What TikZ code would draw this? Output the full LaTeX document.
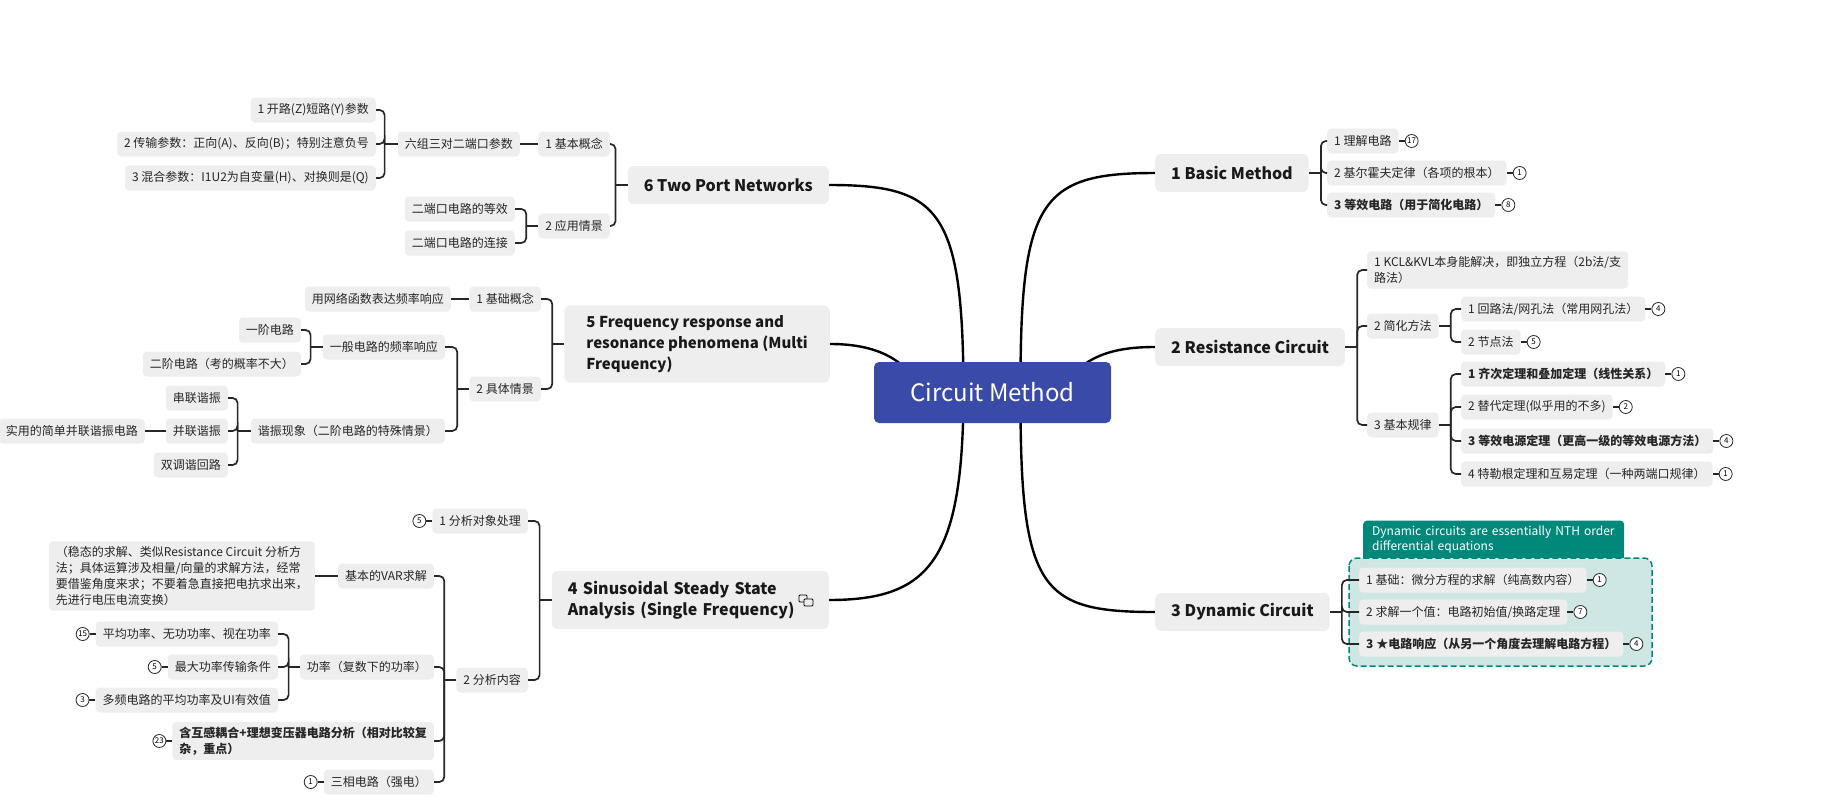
\documentclass[tikz,border=0pt]{standalone}
\usepackage{fontspec}
\setmainfont{Noto Sans CJK SC}
\usetikzlibrary{positioning,backgrounds}

\definecolor{boxgray}{HTML}{EEEEEE}
\definecolor{rootblue}{HTML}{3A4AA8}
\definecolor{noteteal}{HTML}{00897B}
\definecolor{zoneteal}{HTML}{CFE7E4}
\definecolor{linkgray}{HTML}{262626}

\tikzset{
  leaf/.style={fill=boxgray, rounded corners=4pt, inner xsep=7pt, inner ysep=3pt,
    minimum height=25pt, text=black!85, font=\fontsize{12}{16}\selectfont},
  topic/.style={fill=boxgray, rounded corners=6pt, inner xsep=16pt, inner ysep=10pt,
    minimum height=38pt, text=black!90, font=\fontsize{16}{21}\selectfont\bfseries},
  badge/.style={circle, draw=black!85, line width=0.8pt, fill=white, inner sep=0pt,
    minimum size=13pt, font=\fontsize{8}{8}\selectfont},
  elbow/.style={draw=linkgray, line width=1.7pt, rounded corners=5pt},
  branch/.style={draw=black, line width=2.4pt},
  tie/.style={draw=linkgray, line width=1.2pt},
  zone/.style={draw=noteteal, fill=zoneteal, line width=1.5pt, dash pattern=on 6pt off 3pt,
    rounded corners=8pt}
}

\begin{document}
\begin{tikzpicture}[x=1pt,y=-1pt]
\useasboundingbox (0,0) rectangle (1825,808);

% root
\node[fill=rootblue, text=white, rounded corners=5pt, minimum width=237pt, minimum height=61pt,
  font=\fontsize{24}{28}\selectfont] (root) at (992.5,392.5) {Circuit Method};

% right side topics
\node[topic, anchor=west] (basic) at (1155,173) {1 Basic Method};
\node[topic, anchor=west] (resist) at (1155,347) {2 Resistance Circuit};
\node[topic, anchor=west] (dyn) at (1155,612) {3 Dynamic Circuit};

% left side topics
\node[topic, anchor=east] (twoport) at (829,185) {6 Two Port Networks};
\node[topic, anchor=east, align=left, inner xsep=22pt, font=\fontsize{15}{21}\selectfont\bfseries] (freq) at (830,344)
  {5 Frequency response and\\resonance phenomena (Multi\\Frequency)};
\node[topic, anchor=east, text width=245pt, align=left] (sinus) at (829,600)
  {4 Sinusoidal Steady State\\Analysis (Single Frequency)};
\begin{scope}[shift={(sinus.east)}]
\draw[line width=0.8pt, rounded corners=1pt] (-30,-5) rectangle (-22,2);
\draw[line width=0.8pt, rounded corners=1pt, fill=boxgray] (-25,-1) rectangle (-16,6);
\end{scope}

% 1 Basic Method
\node[leaf, anchor=west] (b1) at (1327,141) {1 理解电路};
\node[leaf, anchor=west] (b2) at (1327,173) {2 基尔霍夫定律（各项的根本）};
\node[leaf, anchor=west] (b3) at (1327,205) {\bfseries 3 等效电路（用于简化电路）};
\node[badge, right=6pt of b1] (b1n) {17};
\node[badge, right=6pt of b2] (b2n) {1};
\node[badge, right=6pt of b3] (b3n) {8};

% 2 Resistance Circuit
\node[leaf, anchor=west, align=left, inner ysep=5pt] (r1) at (1367,270)
  {1 KCL\&KVL本身能解决，即独立方程（2b法/支\\路法）};
\node[leaf, anchor=west] (r2) at (1367,326) {2 简化方法};
\node[leaf, anchor=west] (r3) at (1367,425) {3 基本规律};
\node[leaf, anchor=west] (r21) at (1461,309) {1 回路法/网孔法（常用网孔法）};
\node[leaf, anchor=west] (r22) at (1461,342) {2 节点法};
\node[leaf, anchor=west] (r31) at (1461,374) {\bfseries 1 齐次定理和叠加定理（线性关系）};
\node[leaf, anchor=west] (r32) at (1461,407) {2 替代定理(似乎用的不多)};
\node[leaf, anchor=west] (r33) at (1461,441) {\bfseries 3 等效电源定理（更高一级的等效电源方法）};
\node[leaf, anchor=west] (r34) at (1461,474) {4 特勒根定理和互易定理（一种两端口规律）};
\node[badge, right=6pt of r21] (r21n) {4};
\node[badge, right=6pt of r22] (r22n) {5};
\node[badge, right=6pt of r31] (r31n) {1};
\node[badge, right=6pt of r32] (r32n) {2};
\node[badge, right=6pt of r33] (r33n) {4};
\node[badge, right=6pt of r34] (r34n) {1};

% 3 Dynamic Circuit
\node[fill=noteteal, text=white, rounded corners=4pt, anchor=south west, text width=243pt,
  inner xsep=9pt, inner ysep=5pt, align=left, font=\fontsize{12}{15}\selectfont] (dnote) at (1363,558)
  {Dynamic circuits are essentially NTH order\\differential equations};
\node[leaf, anchor=west] (d1) at (1359,580) {1 基础：微分方程的求解（纯高数内容）};
\node[leaf, anchor=west] (d2) at (1359,612) {2 求解一个值：电路初始值/换路定理};
\node[leaf, anchor=west] (d3) at (1359,644) {\bfseries 3 ★电路响应（从另一个角度去理解电路方程）};
\node[badge, right=6pt of d1] (d1n) {1};
\node[badge, right=6pt of d2] (d2n) {7};
\node[badge, right=6pt of d3] (d3n) {4};

% 6 Two Port Networks
\node[leaf, anchor=east] (t1) at (610,144) {1 基本概念};
\node[leaf, anchor=east] (t11) at (520,144) {六组三对二端口参数};
\node[leaf, anchor=east] (t111) at (376,110) {1 开路(Z)短路(Y)参数};
\node[leaf, anchor=east] (t112) at (376,144) {2 传输参数：正向(A)、反向(B)；特别注意负号};
\node[leaf, anchor=east] (t113) at (376,178) {3 混合参数：I1U2为自变量(H)、对换则是(Q)};
\node[leaf, anchor=east] (t2) at (610,226) {2 应用情景};
\node[leaf, anchor=east] (t21) at (515,209) {二端口电路的等效};
\node[leaf, anchor=east] (t22) at (515,243) {二端口电路的连接};

% 5 Frequency response
\node[leaf, anchor=east] (f1) at (541,299) {1 基础概念};
\node[leaf, anchor=east] (f11) at (451,299) {用网络函数表达频率响应};
\node[leaf, anchor=east] (f2) at (541,389) {2 具体情景};
\node[leaf, anchor=east] (f21) at (445,347) {一般电路的频率响应};
\node[leaf, anchor=east] (f211) at (301,330) {一阶电路};
\node[leaf, anchor=east] (f212) at (301,364) {二阶电路（考的概率不大）};
\node[leaf, anchor=east] (f22) at (445,431) {谐振现象（二阶电路的特殊情景）};
\node[leaf, anchor=east] (f221) at (228,398) {串联谐振};
\node[leaf, anchor=east] (f222) at (228,431) {并联谐振};
\node[leaf, anchor=east] (f223) at (228,465) {双调谐回路};
\node[leaf, anchor=east] (f2221) at (145,431) {实用的简单并联谐振电路};

% 4 Sinusoidal Steady State
\node[leaf, anchor=east] (s1) at (528,521) {1 分析对象处理};
\node[leaf, anchor=east] (s2) at (528,680) {2 分析内容};
\node[leaf, anchor=east] (s21) at (434,576) {基本的VAR求解};
\node[leaf, anchor=east, align=left, inner ysep=5pt] (s211) at (315,576)
  {（稳态的求解、类似Resistance Circuit 分析方\\法；具体运算涉及相量/向量的求解方法，经常\\要借鉴角度来求；不要着急直接把电抗求出来，\\先进行电压电流变换）};
\node[leaf, anchor=east] (s22) at (434,667) {功率（复数下的功率）};
\node[leaf, anchor=east] (s221) at (278,634) {平均功率、无功功率、视在功率};
\node[leaf, anchor=east] (s222) at (278,667) {最大功率传输条件};
\node[leaf, anchor=east] (s223) at (278,700) {多频电路的平均功率及UI有效值};
\node[leaf, anchor=east, align=left, inner ysep=5pt, font=\fontsize{12}{16}\selectfont\bfseries] (s23) at (434,741)
  {含互感耦合+理想变压器电路分析（相对比较复\\杂，重点）};
\node[leaf, anchor=east] (s24) at (434,782) {三相电路（强电）};
\node[badge, left=6pt of s1] (s1n) {5};
\node[badge, left=6pt of s221] (s221n) {15};
\node[badge, left=6pt of s222] (s222n) {5};
\node[badge, left=6pt of s223] (s223n) {3};
\node[badge, left=6pt of s23] (s23n) {23};
\node[badge, left=6pt of s24] (s24n) {1};

% curves from the root, the zone behind the dynamic items
\begin{pgfonlayer}{background}
\draw[branch] ([xshift=28pt]root.center) .. controls (1020,200) and (1040,173) .. (basic.west);
\draw[branch] ([xshift=68pt]root.center) .. controls (1080,355) and (1115,347) .. (resist.west);
\draw[branch] ([xshift=28pt]root.center) .. controls (1020,590) and (1040,612) .. (dyn.west);
\draw[branch] ([xshift=-29pt]root.center) .. controls (963,210) and (940,185) .. (twoport.east);
\draw[branch] ([xshift=-70pt]root.center) .. controls (905,355) and (870,344) .. (freq.east);
\draw[branch] ([xshift=-29pt]root.center) .. controls (963,560) and (930,600) .. (sinus.east);
\draw[zone] (1349,558) rectangle (1652,666);
\fill[noteteal] ([yshift=6pt]dnote.south west) rectangle (dnote.south east);
\end{pgfonlayer}

% elbows, right side
\draw[elbow] (basic.east) -- ++(12,0);
\foreach \c in {b1,b2,b3} \draw[elbow] ([xshift=12pt]basic.east) |- (\c.west);
\draw[elbow] (resist.east) -- ++(12,0);
\foreach \c in {r1,r2,r3} \draw[elbow] ([xshift=12pt]resist.east) |- (\c.west);
\draw[elbow] (r2.east) -- ++(12,0);
\foreach \c in {r21,r22} \draw[elbow] ([xshift=12pt]r2.east) |- (\c.west);
\draw[elbow] (r3.east) -- ++(12,0);
\foreach \c in {r31,r32,r33,r34} \draw[elbow] ([xshift=12pt]r3.east) |- (\c.west);
\draw[elbow] (dyn.east) -- ++(12,0);
\foreach \c in {d1,d2,d3} \draw[elbow] ([xshift=12pt]dyn.east) |- (\c.west);

% elbows, left side
\draw[elbow] (twoport.west) -- ++(-12,0);
\foreach \c in {t1,t2} \draw[elbow] ([xshift=-12pt]twoport.west) |- (\c.east);
\draw[elbow] (t1.west) -- (t11.east);
\draw[elbow] (t11.west) -- ++(-13,0);
\foreach \c in {t111,t112,t113} \draw[elbow] ([xshift=-13pt]t11.west) |- (\c.east);
\draw[elbow] (t2.west) -- ++(-12,0);
\foreach \c in {t21,t22} \draw[elbow] ([xshift=-12pt]t2.west) |- (\c.east);
\draw[elbow] (freq.west) -- ++(-12,0);
\foreach \c in {f1,f2} \draw[elbow] ([xshift=-12pt]freq.west) |- (\c.east);
\draw[elbow] (f1.west) -- (f11.east);
\draw[elbow] (f2.west) -- ++(-12,0);
\foreach \c in {f21,f22} \draw[elbow] ([xshift=-12pt]f2.west) |- (\c.east);
\draw[elbow] (f21.west) -- ++(-12,0);
\foreach \c in {f211,f212} \draw[elbow] ([xshift=-12pt]f21.west) |- (\c.east);
\draw[elbow] (f22.west) -- ++(-13,0);
\foreach \c in {f221,f222,f223} \draw[elbow] ([xshift=-13pt]f22.west) |- (\c.east);
\draw[elbow] (f222.west) -- (f2221.east);
\draw[elbow] (sinus.west) -- ++(-12,0);
\foreach \c in {s1,s2} \draw[elbow] ([xshift=-12pt]sinus.west) |- (\c.east);
\draw[elbow] (s2.west) -- ++(-12,0);
\foreach \c in {s21,s22,s23,s24} \draw[elbow] ([xshift=-12pt]s2.west) |- (\c.east);
\draw[elbow] (s21.west) -- (s211.east);
\draw[elbow] (s22.west) -- ++(-11,0);
\foreach \c in {s221,s222,s223} \draw[elbow] ([xshift=-11pt]s22.west) |- (\c.east);

% badge ties
\foreach \c in {b1,b2,b3,r21,r22,r31,r32,r33,r34,d1,d2,d3} \draw[tie] (\c.east) -- (\c n);
\foreach \c in {s1,s221,s222,s223,s23,s24} \draw[tie] (\c.west) -- (\c n);
\end{tikzpicture}
\end{document}
